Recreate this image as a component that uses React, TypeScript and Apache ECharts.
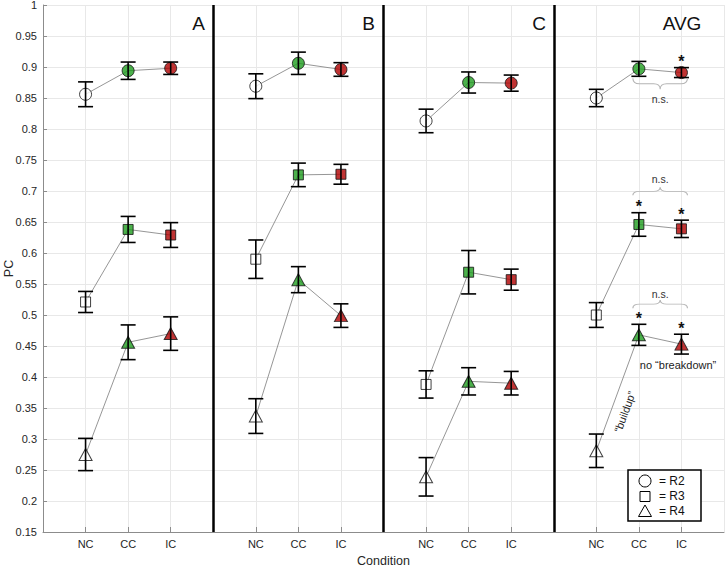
import React, { useEffect, useRef } from 'react';
import * as echarts from 'echarts';

const PANELS = ['A', 'B', 'C', 'AVG'];
const CONDITIONS = ['NC', 'CC', 'IC'];
const RINGS = ['R2', 'R3', 'R4'];

// means and error half-widths per panel, ordered [NC, CC, IC]
const R2_MEAN = [[0.856, 0.894, 0.898], [0.869, 0.906, 0.896], [0.813, 0.875, 0.874], [0.850, 0.897, 0.891]];
const R2_ERR = [[0.020, 0.014, 0.010], [0.020, 0.018, 0.011], [0.019, 0.017, 0.013], [0.014, 0.012, 0.008]];
const R3_MEAN = [[0.521, 0.638, 0.629], [0.590, 0.726, 0.727], [0.388, 0.569, 0.557], [0.500, 0.646, 0.639]];
const R3_ERR = [[0.017, 0.021, 0.020], [0.031, 0.019, 0.016], [0.022, 0.035, 0.017], [0.020, 0.019, 0.014]];
const R4_MEAN = [[0.275, 0.456, 0.470], [0.337, 0.557, 0.499], [0.239, 0.393, 0.390], [0.281, 0.468, 0.453]];
const R4_ERR = [[0.026, 0.028, 0.027], [0.028, 0.021, 0.019], [0.031, 0.022, 0.019], [0.027, 0.017, 0.016]];

// significance stars in AVG panel, per ring [NC, CC, IC]
const AVG_STARS = [[false, false, true], [false, true, true], [false, true, true]];
// "n.s." braces in AVG panel between CC and IC: [ring, end value, tip value, text value]
const NS_BRACES = [
  [0, 0.882, 0.864, 0.848],
  [1, 0.693, 0.706, 0.719],
  [2, 0.511, 0.524, 0.534],
];

const Y_MIN = 0.15;
const Y_MAX = 1;
const Y_STEP = 0.05;

const MEANS = [R2_MEAN, R3_MEAN, R4_MEAN];
const ERRS = [R2_ERR, R3_ERR, R4_ERR];
const SYMBOLS: any[] = ['circle', 'rect', 'triangle'];
const SYMBOL_SIZES: any[] = [12, 10, [13, 12]];
const FILLS = ['#ffffff', '#1f9e1f', '#b00000'];
const FONT = '"Liberation Sans", Arial, sans-serif';
const TXT = '#262626';

let braceRegistered = false;
function ensureBrace() {
  if (braceRegistered) return;
  braceRegistered = true;
  const Brace = (echarts as any).graphic.extendPath(
    'M0,20 Q0,10 12,10 L38,10 Q50,10 50,0 Q50,10 62,10 L88,10 Q100,10 100,20',
    {}
  );
  (echarts as any).graphic.registerShape('nsbrace', Brace);
}

const xPos = (p: number, c: number) => p * 4 + c + 1;

export default function App() {
  const ref = useRef<HTMLDivElement>(null);
  useEffect(() => {
    document.body.style.margin = '0';
    ensureBrace();
    const chart = echarts.init(ref.current!, null, { renderer: 'svg' });

    const series: any[] = [];
    // connecting lines per panel per ring
    MEANS.forEach((m, r) => {
      PANELS.forEach((_, p) => {
        series.push({
          type: 'line',
          silent: true,
          symbol: 'none',
          z: 2,
          lineStyle: { color: '#8a8a8a', width: 0.9 },
          data: CONDITIONS.map((_, c) => [xPos(p, c), m[p][c]]),
          ...(r === 0 && p === 0
            ? {
                markLine: {
                  silent: true,
                  symbol: ['none', 'none'],
                  label: { show: false },
                  lineStyle: { color: '#000', width: 2.5, type: 'solid' },
                  data: [{ xAxis: 4 }, { xAxis: 8 }, { xAxis: 12 }],
                },
              }
            : {}),
        });
      });
    });
    // markers
    MEANS.forEach((m, r) => {
      const data: any[] = [];
      PANELS.forEach((_, p) => {
        CONDITIONS.forEach((_, c) => {
          data.push({
            value: [xPos(p, c), m[p][c]],
            itemStyle: { color: FILLS[c], borderColor: '#111', borderWidth: 1 },
          });
        });
      });
      series.push({
        type: 'scatter',
        name: RINGS[r],
        symbol: SYMBOLS[r],
        symbolSize: SYMBOL_SIZES[r],
        z: 3,
        silent: true,
        data,
      });
    });
    // error bars
    const errData: any[] = [];
    MEANS.forEach((m, r) => {
      PANELS.forEach((_, p) => {
        CONDITIONS.forEach((_, c) => {
          errData.push([xPos(p, c), m[p][c] - ERRS[r][p][c], m[p][c] + ERRS[r][p][c]]);
        });
      });
    });
    series.push({
      type: 'custom',
      z: 5,
      silent: true,
      encode: { x: 0, y: [1, 2] },
      data: errData,
      renderItem: (params: any, api: any) => {
        const x = api.value(0);
        const lo = api.coord([x, api.value(1)]);
        const hi = api.coord([x, api.value(2)]);
        const hw = 7.5;
        const st = { stroke: '#000', lineWidth: 1.6 };
        return {
          type: 'group',
          children: [
            { type: 'line', shape: { x1: lo[0], y1: lo[1], x2: hi[0], y2: hi[1] }, style: st },
            { type: 'line', shape: { x1: lo[0] - hw, y1: lo[1], x2: lo[0] + hw, y2: lo[1] }, style: st },
            { type: 'line', shape: { x1: hi[0] - hw, y1: hi[1], x2: hi[0] + hw, y2: hi[1] }, style: st },
          ],
        };
      },
    });

    const option: any = {
      animation: false,
      backgroundColor: '#fff',
      grid: { left: 43, right: 1, top: 5, bottom: 34, containLabel: false, outerBoundsMode: 'none' },
      xAxis: {
        type: 'value',
        min: 0,
        max: 16,
        interval: 1,
        name: 'Condition',
        nameLocation: 'middle',
        nameGap: 22,
        nameMoveOverlap: false,
        nameTextStyle: { fontFamily: FONT, fontSize: 12.5, color: TXT },
        axisLine: { show: true, lineStyle: { color: '#8c8c8c', width: 1 } },
        axisTick: { show: true, inside: true, length: 5, lineStyle: { color: '#8c8c8c' } },
        splitLine: { show: true, lineStyle: { color: '#e8e8e8', width: 1 } },
        axisLabel: {
          fontFamily: FONT,
          fontSize: 11,
          color: TXT,
          margin: 6,
          showMinLabel: false,
          showMaxLabel: false,
          formatter: (v: number) => {
            const r = Math.round(v) % 4;
            return r === 0 ? '' : CONDITIONS[r - 1];
          },
        },
      },
      yAxis: {
        type: 'value',
        min: Y_MIN,
        max: Y_MAX,
        interval: Y_STEP,
        name: 'PC',
        nameLocation: 'middle',
        nameGap: 28,
        nameMoveOverlap: false,
        nameTextStyle: { fontFamily: FONT, fontSize: 12.5, color: TXT },
        axisLine: { show: true, lineStyle: { color: '#8c8c8c', width: 1 } },
        axisTick: { show: true, inside: true, length: 4, lineStyle: { color: '#8c8c8c' } },
        splitLine: { show: true, lineStyle: { color: '#e8e8e8', width: 1 } },
        axisLabel: {
          fontFamily: FONT,
          fontSize: 11,
          color: TXT,
          margin: 6,
          formatter: (v: number) => String(parseFloat(v.toFixed(2))),
        },
      },
      series,
    };
    chart.setOption(option);

    // annotations
    const px = (x: number, y: number) => chart.convertToPixel({ gridIndex: 0 }, [x, y]) as number[];
    const g: any[] = [];
    const panelLabelPos = [
      [205, 'right'],
      [375, 'right'],
      [546, 'right'],
      [682, 'center'],
    ];
    PANELS.forEach((name, p) => {
      g.push({
        type: 'text',
        x: panelLabelPos[p][0],
        y: 23,
        style: {
          text: name,
          font: `19px ${FONT}`,
          fill: '#111',
          textAlign: panelLabelPos[p][1],
          textVerticalAlign: 'middle',
        },
        z: 20,
      });
    });
    const avg = 3;
    AVG_STARS.forEach((row, r) => {
      row.forEach((s, c) => {
        if (!s) return;
        const top = px(xPos(avg, c), MEANS[r][avg][c] + ERRS[r][avg][c]);
        g.push({
          type: 'text',
          x: top[0],
          y: top[1] - 6,
          style: {
            text: '*',
            font: `bold 16px ${FONT}`,
            fill: '#111',
            textAlign: 'center',
            textVerticalAlign: 'middle',
          },
          z: 20,
        });
      });
    });
    NS_BRACES.forEach(([r, endV, tipV, txtV]) => {
      const a = px(xPos(avg, 1), endV);
      const b = px(xPos(avg, 2), endV);
      const tip = px(xPos(avg, 1), tipV);
      const t = px((xPos(avg, 1) + xPos(avg, 2)) / 2, txtV);
      const h = a[1] - tip[1];
      g.push({
        type: 'nsbrace',
        x: a[0] - 6,
        y: tip[1],
        scaleX: (b[0] - a[0] + 12) / 100,
        scaleY: h / 20,
        style: { stroke: '#b4b4b4', fill: 'none', lineWidth: 1, strokeNoScale: true },
        z: 20,
      });
      g.push({
        type: 'text',
        x: t[0],
        y: t[1],
        style: {
          text: 'n.s.',
          font: `10.5px ${FONT}`,
          fill: '#333',
          textAlign: 'center',
          textVerticalAlign: 'middle',
        },
        z: 20,
      });
    });
    const bd = px(14.92, 0.42);
    g.push({
      type: 'text',
      x: bd[0],
      y: bd[1],
      style: {
        text: 'no \u201Cbreakdown\u201D',
        font: `11px ${FONT}`,
        fill: '#222',
        textAlign: 'center',
        textVerticalAlign: 'middle',
      },
      z: 20,
    });
    const bu = px(13.67, 0.344);
    g.push({
      type: 'text',
      x: bu[0],
      y: bu[1],
      rotation: (70 * Math.PI) / 180,
      style: {
        text: '\u201Cbuildup\u201D',
        font: `11px ${FONT}`,
        fill: '#222',
        textAlign: 'center',
        textVerticalAlign: 'middle',
      },
      z: 20,
    });
    // legend box
    const lx = 628, ly = 470;
    const mk = { fill: '#fff', stroke: '#000', lineWidth: 1 };
    g.push({
      type: 'group',
      z: 30,
      children: [
        { type: 'rect', shape: { x: lx, y: ly, width: 73, height: 51 }, style: { fill: '#fff', stroke: '#000', lineWidth: 1.5 } },
        { type: 'circle', shape: { cx: lx + 17, cy: ly + 11, r: 6 }, style: mk },
        { type: 'rect', shape: { x: lx + 12, y: ly + 21.5, width: 10, height: 10 }, style: mk },
        {
          type: 'polygon',
          shape: { points: [[lx + 17, ly + 35], [lx + 23.5, ly + 46.5], [lx + 10.5, ly + 46.5]] },
          style: mk,
        },
        ...RINGS.map((name, i) => ({
          type: 'text',
          x: lx + 31,
          y: ly + 11 + i * 14.8,
          style: { text: '= ' + name, font: `12px ${FONT}`, fill: '#111', textVerticalAlign: 'middle' },
        })),
      ],
    });
    chart.setOption({ graphic: g });

    return () => chart.dispose();
  }, []);
  return <div ref={ref} style={{ position: 'fixed', left: 0, top: 0, width: 725, height: 566 }} />;
}
